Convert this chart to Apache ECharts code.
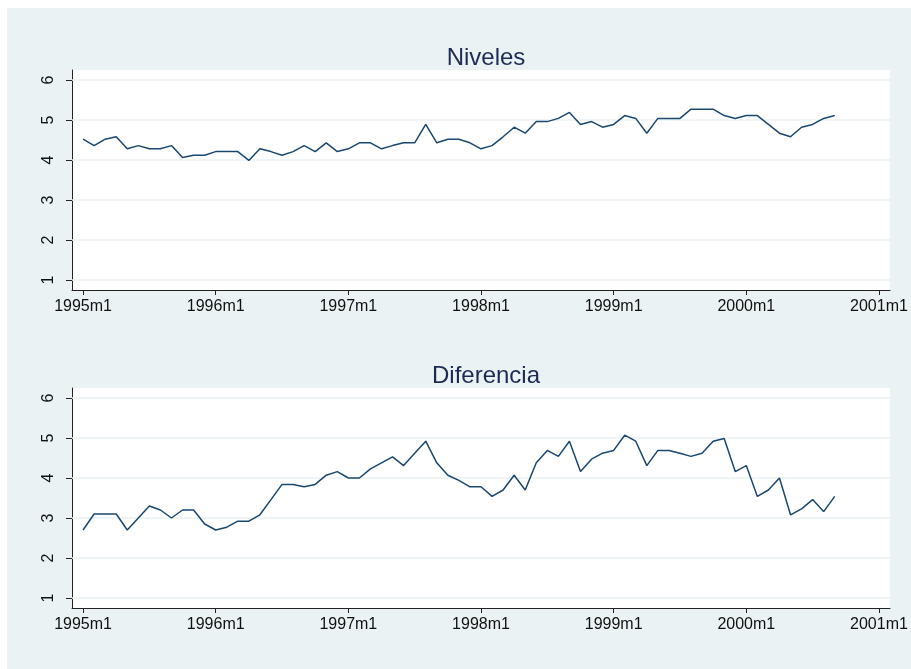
<!DOCTYPE html>
<html>
<head>
<meta charset="utf-8">
<script src="https://cdn.jsdelivr.net/npm/echarts@6/dist/echarts.min.js"></script>
<style>
  html, body { margin: 0; padding: 0; background: #fff; }
  #chart { width: 911px; height: 669px; }
</style>
</head>
<body>
<div id="chart"></div>
<script>
// monthly data from 1995m1 to 2000m9
const startYear = 1995
const niveles = [
    4.52, 4.36, 4.52, 4.58, 4.28, 4.36, 4.28, 4.28, 4.36, 4.06, 4.12, 4.12,
    4.21, 4.21, 4.21, 3.99, 4.28, 4.21, 4.12, 4.21, 4.36, 4.21, 4.43, 4.21,
    4.28, 4.43, 4.43, 4.28, 4.36, 4.43, 4.43, 4.89, 4.43, 4.52, 4.52, 4.43,
    4.28, 4.36, 4.58, 4.82, 4.67, 4.96, 4.96, 5.04, 5.19, 4.89, 4.96, 4.82,
    4.89, 5.11, 5.04, 4.67, 5.04, 5.04, 5.04, 5.27, 5.27, 5.27, 5.11, 5.04,
    5.11, 5.11, 4.89, 4.67, 4.58, 4.82, 4.89, 5.04, 5.11
]
const diferencia = [
    2.70, 3.10, 3.10, 3.10, 2.70, 3.00, 3.30, 3.20, 3.00, 3.20, 3.20, 2.85,
    2.70, 2.77, 2.92, 2.92, 3.08, 3.46, 3.84, 3.84, 3.78, 3.84, 4.07, 4.16,
    4.00, 4.00, 4.23, 4.38, 4.53, 4.31, 4.62, 4.92, 4.38, 4.07, 3.94, 3.78,
    3.78, 3.54, 3.70, 4.07, 3.70, 4.38, 4.69, 4.54, 4.92, 4.16, 4.47, 4.62,
    4.69, 5.07, 4.92, 4.31, 4.69, 4.69, 4.62, 4.54, 4.62, 4.92, 4.99, 4.16,
    4.31, 3.54, 3.70, 4.00, 3.08, 3.23, 3.46, 3.16, 3.54
]
const xTicks = [0, 12, 24, 36, 48, 60, 72]
const yTicks = [1, 2, 3, 4, 5, 6]
const titles = ['Niveles', 'Diferencia']

const bg = '#EAF2F3'
const lineColor = '#1a476f'
const font = 'Liberation Sans, Arial, sans-serif'

function toPairs(arr) {
    return arr.map((v, i) => [i, v])
}

function xAxisFor(idx) {
    return {
        type: 'value',
        gridIndex: idx,
        min: -1,
        max: 73,
        axisLine: { show: true, onZero: false, lineStyle: { color: '#222', width: 1 } },
        axisTick: { show: true, length: 5, customValues: xTicks, lineStyle: { color: '#222' } },
        axisLabel: {
            customValues: xTicks,
            margin: 9,
            color: '#111',
            fontSize: 16,
            fontFamily: font,
            formatter: (v) => (startYear + Math.round(v / 12)) + 'm1'
        },
        splitLine: { show: false }
    }
}

function yAxisFor(idx) {
    return {
        type: 'value',
        gridIndex: idx,
        min: 0.75,
        max: 6.25,
        axisLine: { show: true, onZero: false, lineStyle: { color: '#222', width: 1 } },
        axisTick: { show: true, length: 6, customValues: yTicks, lineStyle: { color: '#222' } },
        axisLabel: {
            customValues: yTicks,
            rotate: 90,
            margin: 15,
            color: '#111',
            fontSize: 16,
            fontFamily: font
        },
        splitLine: { show: false }
    }
}

function seriesFor(idx, data) {
    return {
        type: 'line',
        xAxisIndex: idx,
        yAxisIndex: idx,
        data: toPairs(data),
        showSymbol: false,
        symbol: 'none',
        animation: false,
        lineStyle: { color: lineColor, width: 1.5 },
        markLine: {
            silent: true,
            symbol: 'none',
            z: 1,
            animation: false,
            label: { show: false },
            lineStyle: { color: bg, width: 1.5, type: 'solid' },
            data: yTicks.map(t => ({ yAxis: t }))
        }
    }
}

var myChart = echarts.init(document.getElementById('chart'), null, { renderer: 'canvas' })
option = {
    backgroundColor: '#fff',
    animation: false,
    graphic: [{
        type: 'rect',
        z: -10,
        silent: true,
        shape: { x: 7, y: 8, width: 904, height: 661 },
        style: { fill: bg }
    }],
    title: titles.map((t, i) => ({
        text: t,
        left: 481,
        textAlign: 'center',
        top: i === 0 ? 41 : 359,
        textStyle: { color: '#1c2a55', fontSize: 24, fontWeight: 'normal', fontFamily: font }
    })),
    grid: [
        { left: 72, top: 70, width: 818, height: 220, show: true, backgroundColor: '#fff', borderWidth: 0 },
        { left: 72, top: 388, width: 818, height: 220, show: true, backgroundColor: '#fff', borderWidth: 0 }
    ],
    xAxis: [xAxisFor(0), xAxisFor(1)],
    yAxis: [yAxisFor(0), yAxisFor(1)],
    series: [seriesFor(0, niveles), seriesFor(1, diferencia)]
}
myChart.setOption(option)
</script>
</body>
</html>
